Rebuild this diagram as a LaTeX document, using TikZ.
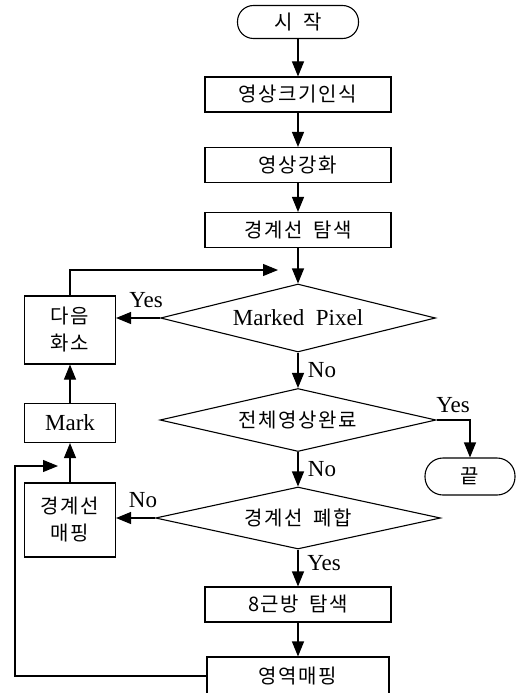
\documentclass[tikz,border=0pt]{standalone}
\usepackage{fontspec}
\setmainfont{Liberation Serif}
\newfontfamily\kr[LetterSpace=8]{Noto Sans CJK KR}
\usetikzlibrary{shapes.geometric,arrows.meta}

\begin{document}
\begin{tikzpicture}[x=1pt, y=-1pt,
					line width=1.1pt,
					box/.style={draw, minimum width=186pt, minimum height=35pt, inner sep=0pt, font=\fontsize{20}{25}\kr},
					sidebox/.style={draw, minimum width=91pt, inner sep=0pt, align=center, font=\fontsize{20}{27}\kr},
					term/.style={draw, rounded corners=16pt, minimum height=33pt, inner sep=0pt, font=\fontsize{20}{25}\kr},
					test/.style={draw, diamond, aspect=4.3, inner sep=0pt, font=\fontsize{23}{27}\selectfont},
					lbl/.style={inner sep=0pt, font=\fontsize{23}{27}\selectfont},
					arr/.style={-{Triangle[length=15pt, width=12pt]}}
				]
				% Parámetros de geometría
				\def\cx{298}     % eje principal
				\def\sx{70}      % eje de las cajas laterales
				\useasboundingbox (0,0) rectangle (516,693);

				% --- Columna principal ---
				\node[term, minimum width=121pt] (start) at (\cx,22) {시\enspace 작};
				\node[box] (size) at (\cx,94.5) {영상크기인식};
				\node[box] (enh) at (\cx,165) {영상강화};
				\node[box] (edge) at (\cx,230) {경계선\enspace 탐색};
				\node[test, minimum width=275pt, minimum height=68pt] (marked) at (\cx,318) {Marked\enspace Pixel};
				\node[test, minimum width=276pt, minimum height=63pt] (done) at (\cx,420) {\fontsize{20}{25}\kr 전체영상완료};
				\node[test, minimum width=285pt, minimum height=62pt] (closed) at (\cx,518) {\fontsize{20}{25}\kr 경계선\enspace 폐합};
				\node[box] (near) at (\cx,604.5) {8근방\enspace 탐색};
				\node[box, minimum width=182pt, minimum height=38pt] (region) at (\cx,676) {영역매핑};

				% --- Cajas laterales ---
				\node[sidebox, minimum height=68pt] (next) at (\sx,330) {다음\\화소};
				\node[sidebox, minimum height=39pt, font=\fontsize{23}{27}\selectfont] (mark) at (\sx,423) {Mark};
				\node[sidebox, minimum height=74pt] (map) at (\sx,520) {경계선\\매핑};
				\node[term, minimum width=90pt, minimum height=37pt, rounded corners=18pt] (stop) at (470,476.5) {끝};

				% --- Flechas ---
				\draw[arr] (start) -- (size);
				\draw[arr] (size) -- (enh);
				\draw[arr] (enh) -- (edge);
				\draw[arr] (edge) -- (marked);
				\draw[arr] (marked) -- (done);
				\draw[arr] (done) -- (closed);
				\draw[arr] (closed) -- (near);
				\draw[arr] (near) -- (region);
				\draw[arr] (marked.west) -- (next.east |- marked.west);
				\draw[arr] (closed.west) -- (map.east |- closed.west);
				\draw[arr] (map) -- (mark);
				\draw[arr] (mark) -- (next);
				\draw[arr] (done.east) -| (stop.north);

				% --- Retornos ---
				\coordinate (back1) at (278,270);
				\coordinate (back2) at (58,466);
				\coordinate (corner) at (15,466);
				\draw[arr] (next.north) |- (back1);
				\draw[arr] (region.west) -| (corner) -- (back2);

				% --- Etiquetas ---
				\node[lbl] (yes1) at (146,300) {Yes};
				\node[lbl] (no1) at (322,370) {No};
				\node[lbl] (yes2) at (453,405) {Yes};
				\node[lbl] (no2) at (322,469) {No};
				\node[lbl] (no3) at (143,500) {No};
				\node[lbl] (yes3) at (324,563) {Yes};

			\end{tikzpicture}
\end{document}
